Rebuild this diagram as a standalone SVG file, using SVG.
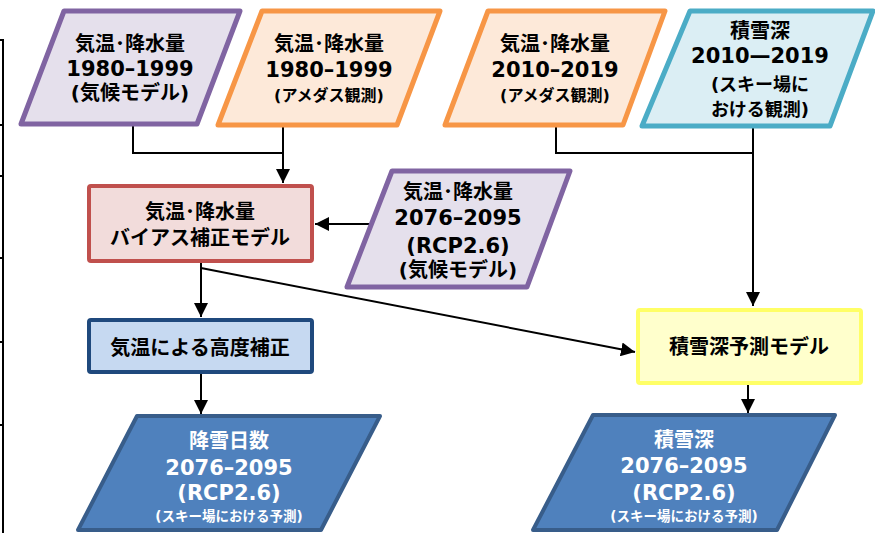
<svg xmlns="http://www.w3.org/2000/svg" width="875" height="533" viewBox="0 0 875 533">
<defs>
<style>
text{font-family:"DejaVu Sans","Noto Sans CJK JP",sans-serif;font-weight:700;text-anchor:middle;fill:#000}
.w{fill:#fff}
.s{font-size:13.5px}
.m{font-size:16px}
.l{font-size:20px}
.d{font-size:21px}
.k{font-size:18px}
.pur{fill:#e5e0ec;stroke:#8064a2;stroke-width:5;stroke-linejoin:round}
.org{fill:#fde9d9;stroke:#f79646;stroke-width:5;stroke-linejoin:round}
.cyn{fill:#dbeef4;stroke:#4bacc6;stroke-width:5;stroke-linejoin:round}
.red{fill:#f2dcdb;stroke:#c0504d;stroke-width:4}
.blu{fill:#c6d9f1;stroke:#1f497d;stroke-width:4}
.yel{fill:#ffffcc;stroke:#ffff66;stroke-width:4}
.dbl{fill:#4f81bd;stroke:#385d8a;stroke-width:4;stroke-linejoin:round}
.c{fill:none;stroke:#000;stroke-width:2}
</style>
<marker id="ah" viewBox="0 0 10 10" refX="10" refY="5" markerWidth="14" markerHeight="14" markerUnits="userSpaceOnUse" orient="auto">
<path d="M0,0 L10,5 L0,10 z" fill="#000"/>
</marker>
</defs>
<rect width="875" height="533" fill="#fff"/>
<path d="M0,40 H3 V533 M0,125 H3 M0,176 H3 M0,258 H3 M0,342 H3 M0,425 H3" fill="none" stroke="#000" stroke-width="2"/>

<g id="connectors">
<path class="c" d="M133,124 V153 H283"/>
<path class="c" d="M283,125 V183" marker-end="url(#ah)"/>
<path class="c" d="M556,125 V153 H753"/>
<path class="c" d="M753,127 V306" marker-end="url(#ah)"/>
<path class="c" d="M370,224 H315" marker-end="url(#ah)"/>
<path class="c" d="M201,262 V317" marker-end="url(#ah)"/>
<path class="c" d="M201,268 L635,352" marker-end="url(#ah)"/>
<path class="c" d="M201,373 V414" marker-end="url(#ah)"/>
<path class="c" d="M748,384 V413" marker-end="url(#ah)"/>
</g>

<g id="n1">
<polygon class="pur" points="64,11 240,11 197,124 21,124"/>
<text class="l" x="130" y="51">気温･降水量</text>
<text class="d" x="130" y="76">1980–1999</text>
<text class="l" x="130" y="100">(気候モデル)</text>
</g>
<g id="n2">
<polygon class="org" points="262,11 440,11 397,125 218,125"/>
<text class="l" x="329" y="51">気温･降水量</text>
<text class="d" x="329" y="77">1980–1999</text>
<text class="m" x="329" y="101">(アメダス観測)</text>
</g>
<g id="n3">
<polygon class="org" points="488,11 665,11 623,125 445,125"/>
<text class="l" x="555" y="51">気温･降水量</text>
<text class="d" x="555" y="77">2010–2019</text>
<text class="m" x="555" y="101">(アメダス観測)</text>
</g>
<g id="n4">
<polygon class="cyn" points="690,11 873,11 830,126 642,126"/>
<text class="l" x="760" y="38">積雪深</text>
<text class="d" x="760" y="63">2010—2019</text>
<text class="k" x="760" y="91">(スキー場に</text>
<text class="k" x="760" y="116">おける観測)</text>
</g>
<g id="n5">
<rect class="red" x="89" y="186" width="223" height="75" rx="2"/>
<text class="l" x="200" y="219">気温･降水量</text>
<text class="l" x="200" y="245">バイアス補正モデル</text>
</g>
<g id="n6">
<polygon class="pur" points="392,171 570,171 527,287 347,287"/>
<text class="l" x="458" y="199">気温･降水量</text>
<text class="d" x="458" y="225">2076–2095</text>
<text class="d" x="458" y="253">(RCP2.6)</text>
<text class="l" x="458" y="277">(気候モデル)</text>
</g>
<g id="n7">
<rect class="blu" x="89" y="320" width="223" height="52" rx="2"/>
<text class="l" x="200" y="355">気温による高度補正</text>
</g>
<g id="n8">
<polygon class="dbl" points="137,416 380,416 321,530 78,530"/>
<text class="l w" x="229" y="448">降雪日数</text>
<text class="d w" x="229" y="475">2076–2095</text>
<text class="d w" x="229" y="500">(RCP2.6)</text>
<text class="s w" x="229" y="521">(スキー場における予測)</text>
</g>
<g id="n9">
<rect class="yel" x="638" y="310" width="223" height="73" rx="2"/>
<text class="l" x="749" y="354">積雪深予測モデル</text>
</g>
<g id="n10">
<polygon class="dbl" points="593,415 835,415 777,530 533,530"/>
<text class="l w" x="684" y="447">積雪深</text>
<text class="d w" x="684" y="473">2076–2095</text>
<text class="d w" x="684" y="500">(RCP2.6)</text>
<text class="s w" x="684" y="521">(スキー場における予測)</text>
</g>
</svg>
